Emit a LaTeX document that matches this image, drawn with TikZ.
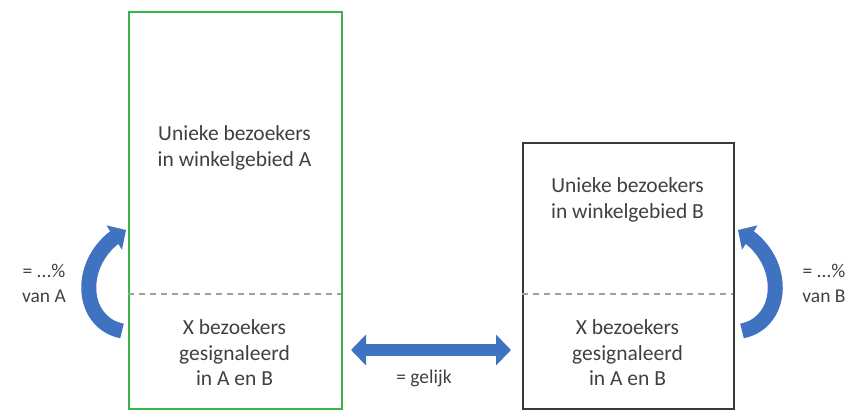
\documentclass[tikz,border=0pt]{standalone}
\usepackage{fontspec}
\setmainfont{Carlito}
\usetikzlibrary{arrows.meta,bending}
\definecolor{txt}{HTML}{404040}
\definecolor{boxgreen}{HTML}{3CB44B}
\definecolor{boxgray}{HTML}{3A3A3A}
\definecolor{arrowblue}{HTML}{3F72C0}
\definecolor{dashgray}{HTML}{A0A0A0}
\tikzset{
  lbl/.style={text=txt, font=\fontsize{21.5}{25.5}\selectfont, align=center, inner sep=0pt},
  sidelbl/.style={lbl, font=\fontsize{19.5}{25}\selectfont},
  areabox/.style={draw, line width=1.6pt, inner sep=0pt},
  divider/.style={draw=dashgray, line width=2.2pt, dash pattern=on 6pt off 5pt},
  bluearc/.style={draw=arrowblue, line width=15pt, -{Triangle[width=28pt,length=14pt,flex]}},
  bluedbl/.style={draw=arrowblue, line width=12pt, {Triangle[width=30pt,length=15pt]}-{Triangle[width=30pt,length=15pt]}}
}
\begin{document}
\begin{tikzpicture}[x=1pt,y=-1pt]
\useasboundingbox (0,0) rectangle (861,410);
% boxes
\node[areabox, draw=boxgreen, minimum width=213pt, minimum height=397pt, anchor=north west] (A) at (128,11) {};
\node[areabox, draw=boxgray, minimum width=211pt, minimum height=266pt, anchor=north west] (B) at (522,142) {};
% dividers
\coordinate (dA1) at (128,294);
\coordinate (dA2) at (341,294);
\coordinate (dB1) at (522,294);
\coordinate (dB2) at (733,294);
\draw[divider] (dA1) -- (dA2);
\draw[divider] (dB1) -- (dB2);
% texts in box A
\node[lbl] (tA1) at (234.5,148) {Unieke bezoekers\\in winkelgebied A};
\node[lbl] (tA2) at (234.5,353) {X bezoekers\\gesignaleerd\\in A en B};
% texts in box B
\node[lbl] (tB1) at (627.5,200) {Unieke bezoekers\\in winkelgebied B};
\node[lbl] (tB2) at (627.5,353) {X bezoekers\\gesignaleerd\\in A en B};
% side labels
\node[sidelbl] (pA) at (44,283) {= ...\%\\van A};
\node[sidelbl] (pB) at (824,283) {= ...\%\\van B};
% curved arrows
\coordinate (cA1) at (122,331);
\coordinate (cA2) at (126,230);
\draw[bluearc] (cA1) .. controls (78,322) and (76,256) .. (cA2);
\coordinate (cB1) at (742,331);
\coordinate (cB2) at (738,230);
\draw[bluearc] (cB1) .. controls (786,322) and (788,256) .. (cB2);
% double arrow
\coordinate (dL) at (351,350);
\coordinate (dR) at (511,350);
\draw[bluedbl] (dL) -- (dR);
\node[sidelbl] (eq) at (424,378) {= gelijk};
\end{tikzpicture}
\end{document}
